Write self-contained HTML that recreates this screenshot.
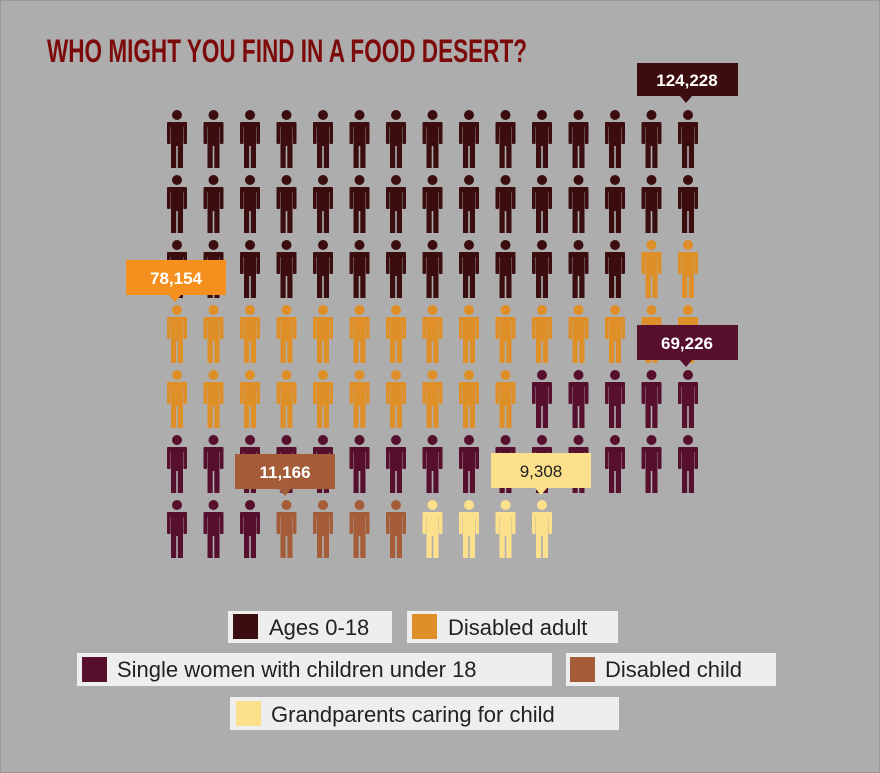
<!DOCTYPE html>
<html><head><meta charset="utf-8"><style>
html,body{margin:0;padding:0;background:#adadad;}
svg{display:block}
text{font-family:"Liberation Sans",sans-serif}
</style></head><body>
<svg width="880" height="773" viewBox="0 0 880 773" xmlns="http://www.w3.org/2000/svg">
<defs>
<g id="p">
<circle cx="0" cy="0" r="5"/>
<rect x="-10" y="7" width="20" height="5" rx="2"/>
<rect x="-10" y="7" width="3.6" height="22" rx="1"/>
<rect x="6.4" y="7" width="3.6" height="22" rx="1"/>
<rect x="-6" y="7" width="12" height="24"/>
<rect x="-6" y="29" width="5.2" height="24"/>
<rect x="0.8" y="29" width="5.2" height="24"/>
</g>
</defs>
<rect x="0" y="0" width="880" height="773" fill="#adadad" stroke="#999" stroke-width="2"/>
<text x="47" y="62" font-family="'Liberation Sans Narrow','Liberation Sans',sans-serif" font-weight="bold" font-size="32" fill="#7d0a0a" textLength="480" lengthAdjust="spacingAndGlyphs">WHO MIGHT YOU FIND IN A FOOD DESERT?</text>
<g id="icons"></g>
<script>
(function(){
var A='#3b0d0f',B='#df8f27',C='#570f2e',D='#a45d38',E='#fde08b';
var rows=[
 Array(15).fill(A),
 Array(15).fill(A),
 Array(13).fill(A).concat([B,B]),
 Array(15).fill(B),
 Array(10).fill(B).concat(Array(5).fill(C)),
 Array(15).fill(C),
 [C,C,C,D,D,D,D,E,E,E,E]
];
var g=document.getElementById('icons'),ns='http://www.w3.org/2000/svg';
rows.forEach(function(r,ri){r.forEach(function(c,ci){
 var u=document.createElementNS(ns,'use');
 u.setAttribute('href','#p');
 u.setAttribute('x',(177+36.5*ci).toFixed(1));
 u.setAttribute('y',115+65*ri);
 u.setAttribute('fill',c);
 g.appendChild(u);
});});
})();
</script>
<!-- labels -->
<g font-weight="bold" font-size="17" text-anchor="middle">
<rect x="637" y="63" width="101" height="33" fill="#3b0d0f"/><path d="M680 96 L686 103 L692 96Z" fill="#3b0d0f"/>
<text x="687" y="86" fill="#fff">124,228</text>
<rect x="126" y="260" width="100" height="35" fill="#f5901e"/><path d="M169 295 L175 302 L181 295Z" fill="#f5901e"/>
<text x="176" y="284" fill="#fff">78,154</text>
<rect x="637" y="325" width="101" height="35" fill="#570f2e"/><path d="M680 360 L686 367 L692 360Z" fill="#570f2e"/>
<text x="687" y="349" fill="#fff">69,226</text>
<rect x="235" y="454" width="100" height="35" fill="#a45d38"/><path d="M279 489 L285 496 L291 489Z" fill="#a45d38"/>
<text x="285" y="478" fill="#fff">11,166</text>
<rect x="491" y="453" width="100" height="35" fill="#fde08b"/><path d="M535 488 L541 495 L547 488Z" fill="#fde08b"/>
<text x="541" y="477" fill="#222" font-weight="normal">9,308</text>
</g>
<!-- legend -->
<g font-size="22" fill="#222">
<rect x="228" y="611" width="164" height="32" fill="#eeeeee"/>
<rect x="233" y="614" width="25" height="25" fill="#3b0d0f"/>
<text x="269" y="635">Ages 0-18</text>
<rect x="407" y="611" width="211" height="32" fill="#eeeeee"/>
<rect x="412" y="614" width="25" height="25" fill="#df8f27"/>
<text x="448" y="635">Disabled adult</text>
<rect x="77" y="653" width="475" height="33" fill="#eeeeee"/>
<rect x="82" y="657" width="25" height="25" fill="#570f2e"/>
<text x="117" y="677">Single women with children under 18</text>
<rect x="566" y="653" width="210" height="33" fill="#eeeeee"/>
<rect x="570" y="657" width="25" height="25" fill="#a45d38"/>
<text x="605" y="677">Disabled child</text>
<rect x="230" y="697" width="389" height="33" fill="#eeeeee"/>
<rect x="236" y="701" width="25" height="25" fill="#fde08b"/>
<text x="271" y="722">Grandparents caring for child</text>
</g>
</svg>
</body></html>
